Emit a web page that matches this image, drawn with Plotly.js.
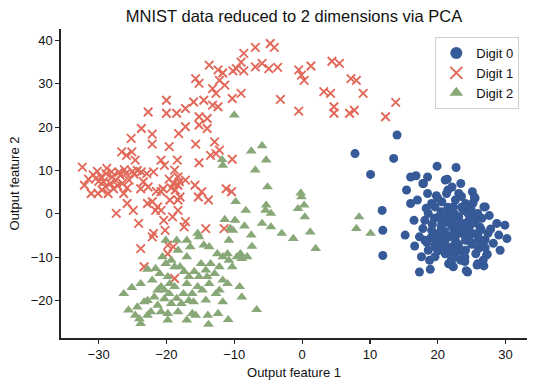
<!DOCTYPE html>
<html>
<head>
<meta charset="utf-8">
<script src="https://cdn.plot.ly/plotly-3.0.1.min.js"></script>
<style>
html,body{margin:0;padding:0;background:#fff;}
#chart{width:536px;height:387px;}
</style>
</head>
<body>
<div id="chart"></div>
<script>
// ---- Data ----
const seriesNames = ["Digit 0", "Digit 1", "Digit 2"];

const digit0X = [7.8,10.1,13.5,14,11.8,11.9,11.9,15.2,15.4,16,16.8,18.5,19.9,22.7,17.3,18.9,24.4,22.3,29.9,30.2,29.2,28.7,27,25.9,26.7,27.2,17.6,18.8,16.5,17.3,16,17,17.8,18.5,21.1,22.1,23.4,25.1,25.4,19.1,20.6,22.6,24.1,25.9,27.4,26.2,25.1,23.6,22.1,20.6,19.1,18.1,19.6,21.1,22.6,24.1,25.6,20.1,21.6,23.1,24.6,21.1,22.6,24.1,19.6,26.2,22.3,23.8,20.6,23.1,25.1,21.6,19.6,23.4,18.1,24.9,21.3,23.1,20.1,21.6,24.4,26.7,25.9,18.6,22.1,23.1,20.6,18.6,21.9,23.9,
  19.5,20.5,21.5,22.5,23.5,24.5,25.5,26.5,20,21,22,23,24,25,26,27,20.5,21.5,22.5,23.5,24.5,25.5,19,22,24,20,26,27.8,23,21,22.6,24.8,25.2,21.5,23.5,19.8,27.6,28.2,26.8,16.6,17.8,18.3,
  21.4,17.9,25.5,26.8,29.0,22.1,24.2,25.8,23.8,21.4,27.3,
  19.2,20.8,22.8,24.6,26.4,19.6,21.2,23.2,25.2,18.4,27.0,22.0,24.0,20.0];
const digit0Y = [13.9,9.1,12.8,18.2,0.8,-3.8,-9.6,-4.9,5.5,8.5,8.8,8.5,11,10.7,-13.4,-12.8,-13.4,-12.2,-2.6,-5.7,-8.4,-2.2,1.6,-11.5,-10.7,-9.5,-9.9,-10.7,-1.5,-5.3,2.4,3.2,7,4.7,7.8,6.2,7,5.1,3.9,2.4,2.8,3.2,2.4,0.1,-4.5,-6.1,-4.5,-3.8,-3,-4.5,-3.8,-6.1,-7.6,-9.2,-10,-8.4,-9.2,-0.7,0.1,-0.7,-1.5,-6.1,-6.1,-6.1,1.6,-3,1.6,0.8,-2.2,-4.5,-6.8,-11.5,-9.9,-10.7,-1.5,1.2,4.7,4.7,-4.5,-5.3,-3,-7.6,-4.5,-8.4,-7.6,-8.4,-7.6,0.1,-1.5,-2.2,
  -1,-3,-2,-1,-3,-4,-2,-1,-6,-7,-5,-7,-5,-7,-8,-6,0.5,1.5,0,1.5,0,-0.5,-5.5,-9,-10,-8.5,-5.5,-3.5,-2,-4,-4,-2.6,2.5,5.5,4,4.2,-0.4,-6.8,-12,-7.4,-3.4,1.3,
  8.0,7.0,3.6,1.6,-4.9,-11.8,-13.1,-11.8,-9.1,-8.4,-9.3,
  -2.4,-5.0,-3.4,-5.8,-3.6,-7.2,-1.2,-8.0,-1.8,-6.6,-7.8,-10.6,-11.0,3.6];

const digit1X = [-4.7,-4.1,-6.9,-8.6,-9,-9.7,-10.2,-8.6,-6.9,-5.9,-4.9,-3.6,-13.7,-12.4,-11.7,-12.2,-11.4,-13.2,-12.7,-15.7,-15.2,-9,-10.3,-13.2,-12.4,-14.5,-16,-17.2,-20,-20,-18.5,-22.7,-15.2,-14,-15.2,-14,-17.2,-18.2,-23.7,-22.1,-25.2,-22.1,-19.6,-15.7,-12.9,-12.2,-13.5,-12.7,-10.3,-15.2,-26.6,-25.1,-25.9,-24.6,-20.8,-18.4,-20.3,-32.4,-32.1,-31.1,-30.1,-30.4,-29.6,-28.9,-28.1,-29.3,-28.3,-27.5,-26.8,-26,-25.5,-28.6,-27.8,-26.3,-27.4,-25.8,-24.9,-24.1,-23.8,-23.3,-23.7,-22.9,-21.9,-23.4,-23.8,-22.7,-20.8,-20.5,-18.8,-18.3,-18.1,-18.3,-17.2,-15.8,-14.8,-15.3,-13.8,-18,-19.5,-22.8,-22.1,-21.3,-20.8,-21.6,-18.3,-19.1,-20.4,-17.2,-20.2,-21.9,-22.1,-17.4,-14.2,-11.5,-11.2,-10.4,-19.8,-19,-19.8,-18.8,-18.3,
  -3.2,-0.5,-0.1,0.3,1.3,-0.5,4.4,5.5,3.2,4.2,4.7,4.7,7,7.7,7.2,8,9,12.3,13.8,
  -31.5,-30.8,-30,-29,-28,-27,-26.5,-25,-29.5,-27.2,-25.8,-24.8,-26.2,-28.8,-30.2,-19,-19.3,-18.7,-19.6,-24.3,-21.5];
const digit1Y = [39.3,38.4,38.4,37,35,33.5,33,33,33.9,34.7,33.5,33.8,34.3,33.2,32.5,30.8,29.7,28.9,27.8,31.2,30.1,27.8,26.6,25.1,24.7,26.2,25.8,24.3,26.2,23.2,23.2,23.5,22.4,22,20.5,19.7,20.1,18.5,19.7,18.4,17.4,16.1,15.5,16.1,16.6,14.7,13.5,13.9,12.6,11.8,14.3,14.3,13.5,12.4,12.4,12.4,11.2,10.8,6.6,4.7,4.7,8.2,8.5,9.3,9.7,7.4,7,7.8,8.9,9.3,7.8,4.7,5.8,4.7,0.1,2.4,0.8,-2.2,-8,-12.2,9.7,9.3,9.7,7.4,5.8,6.2,5.1,5.8,10.1,8.5,7.4,6.6,7.8,6.6,5.1,3.9,3.2,3.9,3.2,2.4,2.8,1.6,0.8,0.8,0.8,-0.7,-1.5,-1.8,-3.8,-4.5,-5.3,-3,-3.4,-3.4,5.8,5.1,-7.2,-7.6,-9.2,-14.9,3.2,
  26.4,33.2,32,30.8,34.1,23.7,35.2,34.7,28.2,27.8,24.7,23.2,23.2,23.9,31.2,30.8,27.8,22.4,25.7,
  8.0,9.0,7.5,6.3,8.5,9.6,7,9.8,5.5,6.5,6.0,9.2,10.2,10.5,9.8,7,6,5.5,8,10.0,5.2];

const digit2X = [-10,-5.9,-7.5,-5.3,-11.8,-11.7,-6.9,-5.1,-0.2,-0.1,-9.8,-8.3,-5.3,-5.4,-4.6,-0.6,0.3,0.4,-11.4,-9.9,-10.6,-10.2,-8.5,-5.9,-4.6,-3,-1.3,1.2,2,-7.5,-7.4,8.4,8,10.1,-6.7,-9.2,-8.9,-10.9,-13.8,-13.9,-12.4,
  -26.3,-25.6,-25.1,-23.8,-24.3,-24,-23.8,-22.8,-22.1,-21.6,-20.6,-20.1,-20.1,-21.3,-20.8,-19.8,-19.6,-19.8,-19.8,-22.8,-22.3,-21.3,-20.8,-22.8,-18.5,-18.3,-18,-18.8,-18.8,-18.5,-18.3,-17.5,-17,-16.5,-17,-16.7,-17,-17,-16.2,-15.7,-16,-15.4,-15.2,-14.9,-15.2,-14.7,-14.2,-14.5,-13.7,-13.5,-14,-12.5,-12.2,-11.7,-12.2,-12.7,-11.7,-11,-10.8,-10.3,-11,-9.6,-9.1,-8.9,-8.1,-11.7,-19.3,-21,-21.8,-20.3,-19.3,-17.8,-16.2,-15.4,-17.4,-15.9,-14.2,-12.9,-19.5,-23.3,-24.6,-13.7,-10.8,-16.7,-20.3];
const digit2Y = [22.8,15.7,14.5,12.4,12.5,11.2,10.1,6.2,4.8,3.9,2.8,0.8,2,0.8,0.1,1.2,2,-0.7,-1.3,-1.5,-3.4,-3.8,-2.8,-2.2,-3,-4.5,-5.7,-4.2,-8,-4.9,-7.5,-0.7,-3.4,-4.5,-22.1,-16.8,-19.2,-24.4,-25.5,-23.4,-23,
  -18.4,-22.2,-17,-16.1,-21.5,-24.2,-25.3,-12.8,-15.3,-12.6,-9.9,-6.1,-11.5,-17.6,-16.8,-14.5,-18.4,-24.5,-23,-20,-22.6,-21.1,-22.6,-23.4,-6.1,-8.4,-12.2,-12.2,-16.8,-19.5,-22.6,-18.4,-6.1,-7.6,-9.9,-14.5,-16.1,-24.5,-23,-23.4,-20.3,-4.5,-5.3,-11.5,-14.5,-17.6,-19.9,-7.2,-7.6,-11.5,-14.5,-9.2,-12.2,-15.3,-17.6,-18.4,-20.3,-9.2,-10.7,-12.2,-16.1,-9.9,-9.2,-10.3,-9.9,-9.9,-10.7,-13.8,-19.2,-19.6,-20.7,-20.7,-18.4,-16.8,-13.3,-13.3,-13,-13.8,-16.1,-20.3,-23.4,-16.1,-6.1,-20,-17.6];

const xTickVals = [-30,-20,-10,0,10,20,30];
const yTickVals = [-20,-10,0,10,20,30,40];

const FONT = "Liberation Sans, Arial, Helvetica, sans-serif";
const INK = "#262626";

const traces = [
  {x: digit0X, y: digit0Y, name: seriesNames[0], type: "scatter", mode: "markers",
   marker: {symbol: "circle", size: 9, color: "#355A97"}},
  {x: digit1X, y: digit1Y, name: seriesNames[1], type: "scatter", mode: "markers",
   marker: {symbol: "x-thin", size: 8.5, color: "#E2695A", line: {color: "#E2695A", width: 1.9}}},
  {x: digit2X, y: digit2Y, name: seriesNames[2], type: "scatter", mode: "markers",
   marker: {symbol: "triangle-up", size: 9.5, color: "#89A878"}}
];

const axisCommon = {
  showgrid: false, zeroline: false, showline: true, linecolor: INK, linewidth: 1.6,
  ticks: "outside", ticklen: 4, tickwidth: 1.2, tickcolor: INK,
  tickfont: {family: FONT, size: 13, color: "#111"}, mirror: false, automargin: false
};

const layout = {
  width: 536, height: 387,
  margin: {l: 61, r: 9, t: 29, b: 49, pad: 0},
  paper_bgcolor: "#fff", plot_bgcolor: "#fff",
  font: {family: FONT, color: "#111"},
  title: {text: "MNIST data reduced to 2 dimensions via PCA", font: {family: FONT, size: 16.5, color: "#111"},
          x: 0.5, xref: "paper", xanchor: "center", y: 0.959, yref: "container", yanchor: "middle"},
  xaxis: Object.assign({}, axisCommon, {range: [-35.55, 33.16], tickvals: xTickVals,
    title: {text: "Output feature 1", font: {family: FONT, size: 13, color: "#111"}, standoff: 6}}),
  yaxis: Object.assign({}, axisCommon, {range: [-28.63, 42.64], tickvals: yTickVals,
    title: {text: "Output feature 2", font: {family: FONT, size: 13, color: "#111"}, standoff: 8}}),
  legend: {x: 0.9835, xanchor: "right", y: 0.974, yanchor: "top", bgcolor: "#fff",
           bordercolor: "#d0d0d0", borderwidth: 1, font: {family: FONT, size: 13, color: "#111"},
           itemsizing: "constant", tracegroupgap: 0},
  showlegend: true
};

Plotly.newPlot("chart", traces, layout, {displayModeBar: false, staticPlot: true});
</script>
</body>
</html>
